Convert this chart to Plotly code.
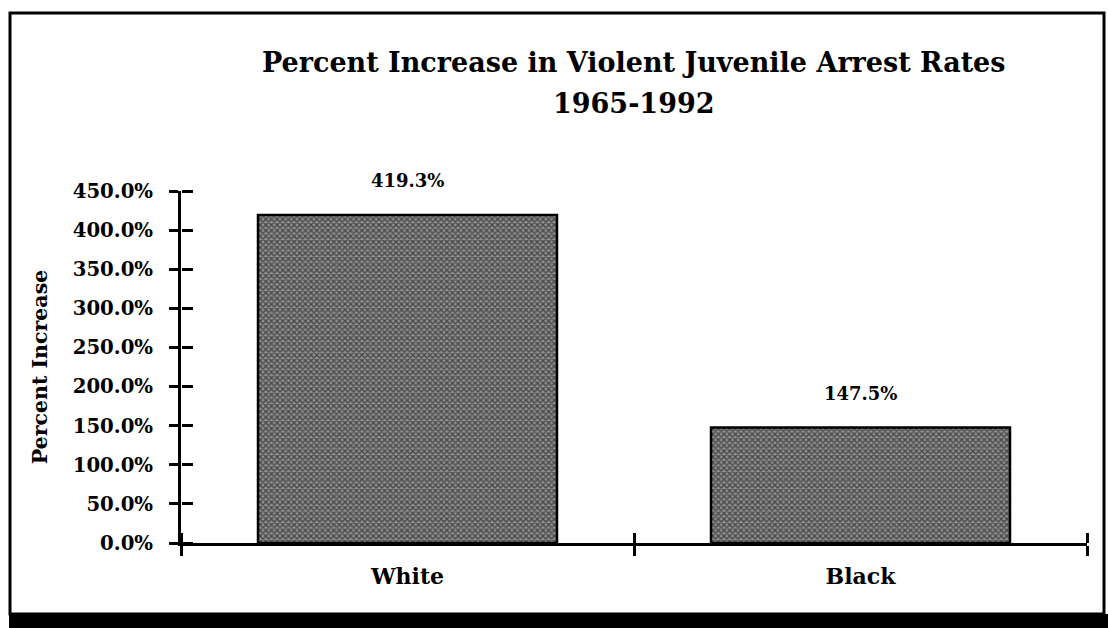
import plotly.graph_objects as go

categories = ["White", "Black"]
values = [419.3, 147.5]
value_labels = ["419.3%", "147.5%"]
y_ticks = [0, 50, 100, 150, 200, 250, 300, 350, 400, 450]
y_tick_labels = ["%.1f%%" % v for v in y_ticks]
title_line1 = "Percent Increase in Violent Juvenile Arrest Rates"
title_line2 = "1965-1992"

W, H = 1108, 628
L, R, T, B = 181, 1087, 191, 543  # plot area in pixels

def px(x):
    return (x - L) / (R - L)

def py(y):
    return (B - y) / (B - T)

FONT = "DejaVu Serif"

fig = go.Figure()
fig.add_trace(go.Bar(
    x=categories, y=values,
    width=0.66,
    marker=dict(
        color="#7a7a7a",
        line=dict(color="black", width=2.5),
        pattern=dict(shape="x", fgcolor="#000000", bgcolor="#8e8e8e", size=4, solidity=0.55),
    ),
    showlegend=False,
    hoverinfo="skip",
))

# helper (invisible) trace to activate the secondary axes used for crossing ticks
fig.add_trace(go.Scatter(x=list(range(len(categories))), y=values, xaxis="x2", yaxis="y2",
                         mode="markers", marker=dict(opacity=0), showlegend=False, hoverinfo="skip"))

for c, v, t in zip(categories, values, value_labels):
    fig.add_annotation(x=c, y=v, text=t, showarrow=False, yanchor="bottom", yshift=22,
                       font=dict(family=FONT, size=18, color="black", weight="bold"))

fig.add_annotation(xref="paper", yref="paper", x=0.5, y=py(62), text=title_line1, showarrow=False,
                   xanchor="center", yanchor="middle",
                   font=dict(family=FONT, size=27, color="black", weight="bold"))
fig.add_annotation(xref="paper", yref="paper", x=0.5, y=py(103), text=title_line2, showarrow=False,
                   xanchor="center", yanchor="middle",
                   font=dict(family=FONT, size=27, color="black", weight="bold"))

fig.update_layout(
    width=W, height=H,
    margin=dict(l=L, r=W - R, t=T, b=H - B, pad=0),
    paper_bgcolor="white", plot_bgcolor="white",
    bargap=0.34,
    xaxis=dict(
        type="category", range=[-0.5, 1.5],
        tickson="boundaries", ticks="outside", ticklen=10, tickwidth=3, tickcolor="black",
        showline=True, linecolor="black", linewidth=3,
        showgrid=False, zeroline=False,
        tickfont=dict(family=FONT, size=22, color="black", weight="bold"),
        ticklabelstandoff=12,
    ),
    xaxis2=dict(
        overlaying="x", range=[-0.5, 1.5], type="linear",
        tickmode="array", tickvals=[-0.5, 0.5, 1.5], ticks="outside", ticklen=10, tickwidth=3,
        tickcolor="black", showticklabels=False, showgrid=False, zeroline=False, showline=False,
        anchor="free", position=0, side="top",
    ),
    yaxis=dict(
        range=[0, 450], tickmode="array", tickvals=y_ticks, ticktext=y_tick_labels,
        ticks="outside", ticklen=9, tickwidth=3, tickcolor="black",
        showline=True, linecolor="black", linewidth=3,
        showgrid=False, zeroline=False,
        tickfont=dict(family=FONT, size=19.7, color="black", weight="bold"),
        ticklabelstandoff=12,
        title=dict(text="Percent Increase", standoff=20,
                   font=dict(family=FONT, size=20.5, color="black", weight="bold")),
    ),
    yaxis2=dict(
        overlaying="y", range=[0, 450], tickmode="array", tickvals=y_ticks,
        ticks="outside", ticklen=11, tickwidth=3, tickcolor="black",
        showticklabels=False, showgrid=False, zeroline=False, showline=False,
        anchor="free", position=0, side="right",
    ),
)

# frame and bottom shadow band around the whole figure
fig.add_shape(type="rect", xref="paper", yref="paper",
              x0=px(10), x1=px(1104), y0=py(614), y1=py(13),
              line=dict(color="black", width=3), fillcolor="rgba(0,0,0,0)", layer="below")
fig.add_shape(type="rect", xref="paper", yref="paper",
              x0=px(9), x1=px(1108), y0=py(628), y1=py(614),
              line=dict(width=0), fillcolor="black", layer="above")

fig.write_html("out.html")
